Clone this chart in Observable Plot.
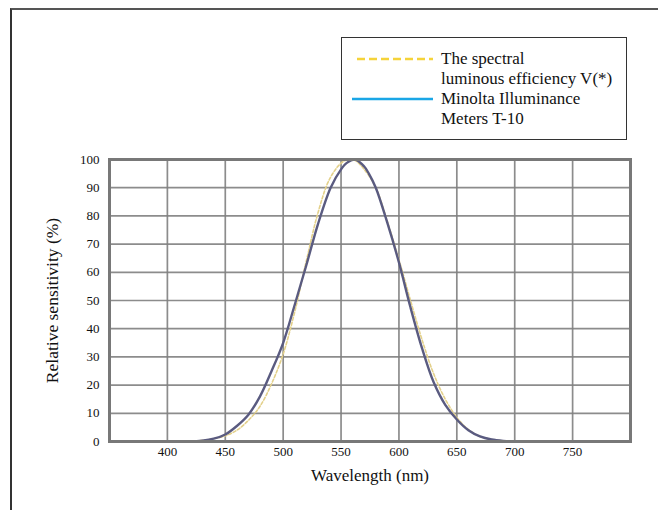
<!DOCTYPE html>
<html>
<head>
<meta charset="utf-8">
<script src="https://cdn.jsdelivr.net/npm/d3@7"></script>
<script src="https://cdn.jsdelivr.net/npm/@observablehq/plot@0.6"></script>
<style>
  html, body { margin: 0; padding: 0; background: #fff; }
  #wrap { position: relative; width: 658px; height: 510px; overflow: hidden; font-family: "Liberation Serif", "DejaVu Serif", serif; }
  #outer { position: absolute; left: 10px; top: 8px; right: -5px; bottom: -5px; border-top: 2px solid #555; border-left: 2px solid #333; pointer-events: none; }
  #legend { position: absolute; left: 341px; top: 37px; width: 286px; height: 103px; border: 1px solid #333; background: #fff; box-sizing: border-box; }
  .txt { position: absolute; left: 99px; font-size: 17px; line-height: 20px; color: #111; white-space: nowrap; }
  .sw { position: absolute; }
</style>
</head>
<body>
<div id="wrap">
  <div id="chart"></div>
  <div id="outer"></div>
  <div id="legend"></div>
</div>
<script>
// Wavelength (nm) and relative sensitivity (%)
const minoltaWl  = [350, 400, 420, 430, 440, 450, 460, 470, 480, 490, 500, 510, 520, 530, 541, 550, 555, 562, 570, 574, 580, 590, 600, 610, 620, 630, 640, 650, 660, 670, 680, 690, 700, 750, 800];
const minoltaVal = [0, 0, 0, 0.3, 1, 2.5, 5.5, 9.5, 16, 25, 35, 48.5, 62.5, 77, 90, 96.5, 98.8, 100, 97.5, 95, 90, 77.5, 63.5, 47.5, 33, 21, 13, 7.8, 4, 1.8, 0.7, 0.2, 0, 0, 0];

const vWl  = [350, 400, 420, 430, 440, 450, 460, 470, 480, 490, 500, 510, 520, 530, 540, 550, 556, 562, 570, 580, 590, 600, 610, 620, 630, 640, 650, 660, 670, 680, 690, 700, 750, 800];
const vVal = [0, 0, 0, 0.4, 1, 2, 4, 7.5, 12.5, 20.5, 31, 46, 64, 81, 93, 98.7, 100, 99.7, 96.5, 90, 78, 64.5, 50, 36, 24, 15, 8.5, 4.2, 1.8, 0.7, 0.2, 0, 0, 0];

const xTicks = [400, 450, 500, 550, 600, 650, 700, 750];
const yTicks = [0, 10, 20, 30, 40, 50, 60, 70, 80, 90, 100];

const seriesLabels = ["The spectral\nluminous efficiency V(*)", "Minolta Illuminance\nMeters T-10"];

const minolta = minoltaWl.map((w, i) => ({wl: w, v: minoltaVal[i]}));
const vlambda = vWl.map((w, i) => ({wl: w, v: vVal[i]}));

const serif = "'Liberation Serif', 'DejaVu Serif', serif";

const chart = Plot.plot({
  width: 658,
  height: 510,
  marginLeft: 109,
  marginRight: 28,
  marginTop: 159,
  marginBottom: 69,
  style: {fontFamily: serif, fontSize: "13px", background: "transparent", color: "#111"},
  x: {domain: [350, 800], axis: null},
  y: {domain: [0, 100], axis: null},
  marks: [
    Plot.gridX(xTicks, {stroke: "#808080", strokeOpacity: 0.9, strokeWidth: 1.7}),
    Plot.gridY(yTicks, {stroke: "#808080", strokeOpacity: 0.9, strokeWidth: 1.7}),
    Plot.line(vlambda, {x: "wl", y: "v", stroke: "#e3d08a", strokeWidth: 1.6, strokeDasharray: "3,2", curve: "catmull-rom"}),
    Plot.line(minolta, {x: "wl", y: "v", stroke: "#5a5b80", strokeWidth: 2.4, curve: "catmull-rom"}),
    Plot.frame({stroke: "#787878", strokeWidth: 3}),
    // tick labels
    Plot.text(xTicks, {x: d => d, frameAnchor: "bottom", lineAnchor: "top", dy: 5, fontSize: 13, fill: "#111", text: d => String(d)}),
    Plot.text(yTicks, {y: d => d, frameAnchor: "left", textAnchor: "end", dx: -10, fontSize: 13, fill: "#111", text: d => String(d)}),
    // axis titles
    Plot.text(["Wavelength (nm)"], {frameAnchor: "bottom", lineAnchor: "top", dy: 27, fontSize: 17, fill: "#111"}),
    Plot.text(["Relative sensitivity (%)"], {frameAnchor: "left", textAnchor: "middle", dx: -57, rotate: -90, fontSize: 17.5, fill: "#111"})
  ]
});
document.getElementById("chart").appendChild(chart);

// Legend
const legend = document.getElementById("legend");
const items = [
  {label: seriesLabels[0], color: "#f5d33a", dash: "8,4", x1: 15, top: 12},
  {label: seriesLabels[1], color: "#1aa6e6", dash: null, x1: 10, top: 52}
];
const NS = "http://www.w3.org/2000/svg";
items.forEach(it => {
  const svg = document.createElementNS(NS, "svg");
  svg.setAttribute("class", "sw");
  svg.setAttribute("width", 95);
  svg.setAttribute("height", 6);
  svg.style.left = "0px";
  svg.style.top = (it.top + 6) + "px";
  const ln = document.createElementNS(NS, "line");
  ln.setAttribute("x1", it.x1);
  ln.setAttribute("x2", 91);
  ln.setAttribute("y1", 3);
  ln.setAttribute("y2", 3);
  ln.setAttribute("stroke", it.color);
  ln.setAttribute("stroke-width", 2.5);
  if (it.dash) ln.setAttribute("stroke-dasharray", it.dash);
  svg.appendChild(ln);
  legend.appendChild(svg);
  const t = document.createElement("div");
  t.className = "txt";
  t.style.top = (it.top - 1) + "px";
  t.innerHTML = it.label.split("\n").join("<br>");
  legend.appendChild(t);
});
</script>
</body>
</html>
